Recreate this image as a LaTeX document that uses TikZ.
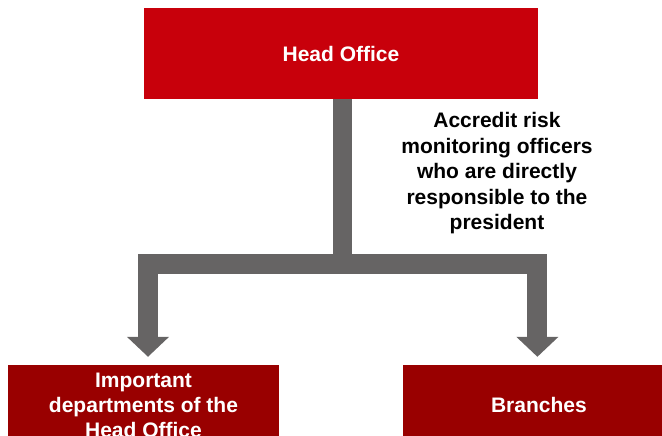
\documentclass[tikz,border=0pt]{standalone}
\usepackage{fontspec}
\setmainfont{Liberation Sans}
\usepackage{xcolor}
\usepackage{tikz}
\usetikzlibrary{arrows.meta,positioning,calc}
\definecolor{headred}{HTML}{C8000B}
\definecolor{unitred}{HTML}{990000}
\definecolor{arrowgray}{HTML}{666464}

\begin{document}
\begin{tikzpicture}[
  x=1pt, y=-1pt,
  headbox/.style={fill=headred, minimum width=394pt, minimum height=91pt, align=center, text=white, font=\bfseries\fontsize{21}{25}\selectfont},
  unitbox/.style={fill=unitred, minimum width=271pt, minimum height=80pt, align=center, text=white, font=\bfseries\fontsize{21}{25}\selectfont},
  note/.style={align=center, font=\bfseries\fontsize{21}{25.5}\selectfont},
  stem/.style={draw=arrowgray, line width=19pt},
  conn/.style={draw=arrowgray, line width=20pt, -{Triangle[width=41pt,length=20pt]}, shorten >=8pt}
]
  \useasboundingbox (0,0) rectangle (662,436);
  \clip (0,0) rectangle (662,436);
  \node[headbox] (head) at (341,53.5) {Head Office};
  \node[unitbox] (dept) at (143.5,405) {Important\\departments of the\\Head Office};
  \node[unitbox, right=124pt of dept] (branch) {Branches};
  \node[note] (accredit) at (497,173.5) {Accredit risk\\monitoring officers\\who are directly\\responsible to the\\president};
  \coordinate (fork) at (342.5,263.5);
  \draw[stem] (head.south -| fork) -- (fork);
  \draw[conn] (fork) -| ([xshift=4.5pt]dept.north);
  \draw[conn] (fork) -| ([xshift=-1.5pt]branch.north);
\end{tikzpicture}
\end{document}
